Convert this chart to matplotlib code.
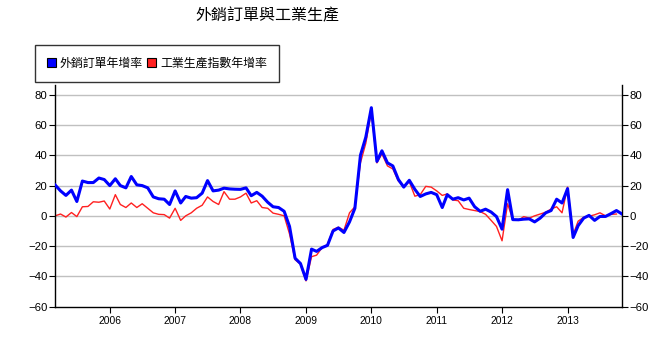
import matplotlib
matplotlib.use('Agg')
import matplotlib.pyplot as plt
import matplotlib.dates as mdates
import matplotlib.patches as mpatches
import pandas as pd

plt.rcParams['font.family'] = ['Liberation Sans', 'Noto Sans CJK TC']

# monthly year-over-year growth (%)
export_orders = [20.5, 16.5, 13.5, 17, 9.5, 23, 22, 22, 25, 24,
                 20, 24.5, 20, 18.5, 26, 20.5, 20, 18.5, 12.5, 11.3, 11, 7.5,
                 16.5, 8.5, 12.8, 11.7, 12, 15, 23.3, 16.5, 17, 18.3, 17.8, 17.6,
                 17.5, 18.5, 13.3, 15.5, 13, 9, 6, 5.5, 3, -7, -28, -31.5,
                 -42, -22, -23.5, -21, -19.5, -10, -8, -11, -4, 5, 40, 52,
                 71.5, 36, 43, 35, 33, 24, 19, 23.5, 17.5, 12.8, 14.5, 15.5,
                 14, 5.5, 14, 11, 12, 10.5, 11.7, 6, 3, 4.4, 2.5, -0.5,
                 -8.8, 17.3, -2.5, -2.6, -2.2, -2.0, -4.0, -1.5, 2.0, 3.5, 11, 8.5,
                 18, -14.3, -6.5, -1.5, 0.3, -3.0, -0.4, -0.4, 1.5, 3.5, 1.2]

industrial = [0, 1.2, -0.8, 2.2, -0.5, 6, 6.2, 9.3, 9, 9.8,
              4.5, 14, 7.5, 5.5, 8.5, 5.5, 8, 5, 2, 1, 0.8, -1.5,
              5, -3, 0, 2, 5, 7, 12.5, 9.5, 7.5, 16, 11, 11,
              12.5, 15, 8.5, 10, 5.5, 5, 1.8, 1, 0, -12, -29, -32,
              -43, -27, -26, -21, -19, -9, -7.5, -9.5, 2, 6, 35, 48,
              69, 35, 41, 33, 31, 23, 19.5, 22.5, 13, 14, 19.5, 19,
              16.5, 13.5, 14.5, 10.5, 10, 5, 4.2, 3.5, 2.8, 1, -3, -7,
              -16.5, 8, -2.5, -3, -0.5, -1.5, 0, 1.2, 2.4, 4.5, 6, 2,
              19, -12.5, -3.5, -1, -0.3, 0.7, 2, 0, 1, 1.2]

dates_eo = pd.date_range('2005-03-01', periods=len(export_orders), freq='MS')
dates_ip = pd.date_range('2005-03-01', periods=len(industrial), freq='MS')

labels = ['外銷訂單年增率', '工業生產指數年增率']
yticks = [-60, -40, -20, 0, 20, 40, 60, 80]

fig = plt.figure(figsize=(6.51, 3.54), dpi=100)
ax = fig.add_axes([55 / 651, 1 - 306.6 / 354, (622 - 55) / 651, (306.6 - 85) / 354])

for y in yticks[1:]:
    ax.axhline(y, color='#c0c0c0', lw=1.0, zorder=1)

ax.plot(dates_ip, industrial, color='#ff2020', lw=1.0, zorder=2)
ax.plot(dates_eo, export_orders, color='#0000ff', lw=2.2, zorder=3)

ax.set_xlim(dates_eo[0], dates_eo[-1])
ax.set_ylim(-60, 86.5)
ax.set_yticks(yticks)
ax.xaxis.set_major_locator(mdates.YearLocator())
ax.xaxis.set_major_formatter(mdates.DateFormatter('%Y'))

ax.spines['top'].set_visible(False)
for s in ['left', 'right', 'bottom']:
    ax.spines[s].set_linewidth(1.0)
    ax.spines[s].set_color('black')

ax.tick_params(axis='y', left=True, right=True, labelleft=True, labelright=True,
               length=4, width=0.8, pad=1.5, labelsize=8.2)
ax.tick_params(axis='x', length=4, width=0.8, pad=3, labelsize=7.4)

fig.text(267 / 651, 1 - 16 / 354, '外銷訂單與工業生產', ha='center', va='center',
         fontsize=11.5, family=['Noto Sans CJK TC'])

handles = [mpatches.Patch(facecolor='#0000ff', edgecolor='black', lw=0.8, label=labels[0]),
           mpatches.Patch(facecolor='#ff2020', edgecolor='black', lw=0.8, label=labels[1])]
leg = fig.legend(handles=handles, loc='upper left', bbox_to_anchor=(35 / 651, 1 - 45 / 354),
                 ncol=2, fancybox=False, frameon=True, handlelength=0.75, handleheight=0.75,
                 handletextpad=0.3, columnspacing=0.4, borderpad=1.0, borderaxespad=0,
                 prop={'family': ['Noto Sans CJK TC'], 'size': 8.6})
leg.get_frame().set_edgecolor('black')
leg.get_frame().set_linewidth(1.0)

plt.savefig('out.png', dpi=100)
